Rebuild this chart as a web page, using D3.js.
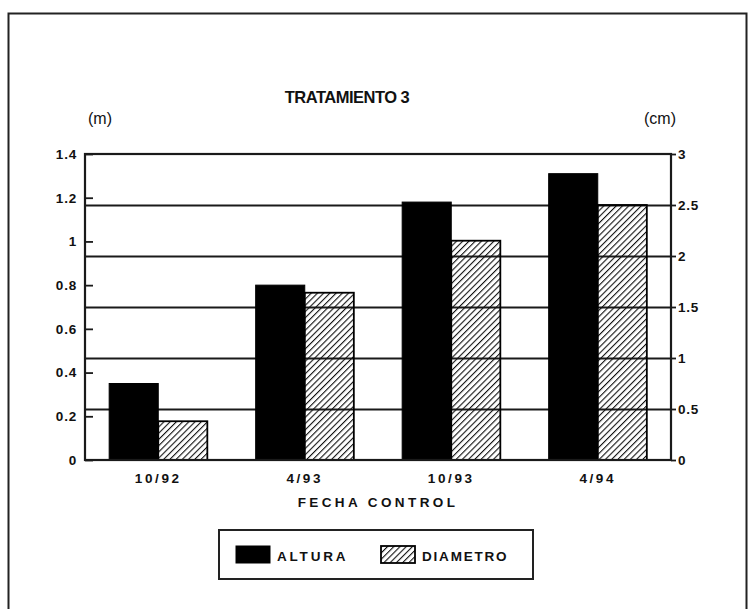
<!DOCTYPE html>
<html><head><meta charset="utf-8">
<script src="https://cdn.jsdelivr.net/npm/d3@7"></script>
<style>
html,body{margin:0;padding:0;background:#fff;}
svg text{font-family:"Liberation Sans",Arial,sans-serif;font-weight:bold;fill:#111;}
</style></head>
<body>
<script>
const categories = ["10/92", "4/93", "10/93", "4/94"];
const altura = [0.35, 0.80, 1.18, 1.31];      // m, left axis
const diametro = [0.38, 1.64, 2.15, 2.50];    // cm, right axis
const leftTicks = [0, 0.2, 0.4, 0.6, 0.8, 1, 1.2, 1.4];
const rightTicks = [0, 0.5, 1, 1.5, 2, 2.5, 3];
const seriesNames = ["ALTURA", "DIAMETRO"];

const W = 748, H = 609;
const FONT = "'Liberation Sans',Arial,sans-serif";
const svg = d3.select("body").append("svg").attr("width", W).attr("height", H);

const defs = svg.append("defs");
const pat = defs.append("pattern").attr("id", "hatch")
  .attr("patternUnits", "userSpaceOnUse").attr("width", 4.4).attr("height", 4.4)
  .attr("patternTransform", "rotate(45)");
pat.append("rect").attr("width", 4.4).attr("height", 4.4).attr("fill", "none");
pat.append("line").attr("x1", 0).attr("y1", 0).attr("x2", 0).attr("y2", 4.4)
  .attr("stroke", "#111").attr("stroke-width", 2.2);

// outer frame (cut at bottom)
svg.append("path").attr("d", `M8.5,${H} V13.5 H746.5 V${H}`)
  .attr("fill", "none").attr("stroke", "#222").attr("stroke-width", 2);

const L = 85, R = 671, T = 154, B = 460;
const x = d3.scaleBand().domain(categories).range([L, R]).paddingInner(0.33).paddingOuter(0.165);
const xs = d3.scaleBand().domain(seriesNames).range([0, x.bandwidth()]);
const yL = d3.scaleLinear().domain([0, 1.4]).range([B, T]);
const yR = d3.scaleLinear().domain([0, 3]).range([B, T]);

// gridlines at right-axis ticks
svg.append("g").selectAll("line").data(rightTicks.filter(d => d > 0 && d < 3)).join("line")
  .attr("x1", L).attr("x2", R).attr("y1", d => Math.round(yR(d)) + 0.5).attr("y2", d => Math.round(yR(d)) + 0.5)
  .attr("stroke", "#1a1a1a").attr("stroke-width", 1.8);

// bars
const g = svg.append("g");
g.selectAll("rect.alt").data(altura).join("rect").attr("class", "alt")
  .attr("x", (d, i) => x(categories[i]) + xs("ALTURA")).attr("width", xs.bandwidth())
  .attr("y", d => yL(d)).attr("height", d => B - yL(d))
  .attr("fill", "#000").attr("stroke", "#000").attr("stroke-width", 1);
g.selectAll("rect.dia").data(diametro).join("rect").attr("class", "dia")
  .attr("x", (d, i) => x(categories[i]) + xs("DIAMETRO")).attr("width", xs.bandwidth())
  .attr("y", d => yR(d)).attr("height", d => B - yR(d))
  .attr("fill", "url(#hatch)").attr("stroke", "#000").attr("stroke-width", 1.8);

// plot frame
svg.append("rect").attr("x", L).attr("y", T).attr("width", R - L).attr("height", B - T)
  .attr("fill", "none").attr("stroke", "#1a1a1a").attr("stroke-width", 2.2);

function styleText(sel, size, spacing) {
  sel.style("font-size", size + "px").style("letter-spacing", spacing + "px")
    .style("font-family", FONT).style("font-weight", "bold").attr("fill", "#111");
}

// left axis
const axL = svg.append("g").attr("transform", `translate(${L},0)`)
  .call(d3.axisRight(yL).tickValues(leftTicks).tickSize(8).tickFormat(d3.format("")));
axL.select(".domain").remove();
axL.selectAll("line").attr("stroke", "#1a1a1a").attr("stroke-width", 1.8);
axL.selectAll("text").attr("x", -8).attr("text-anchor", "end").call(styleText, 13.5, 0.8);

// right axis
const axR = svg.append("g").attr("transform", `translate(${R},0)`)
  .call(d3.axisRight(yR).tickValues(rightTicks).tickSize(5).tickFormat(d3.format("")));
axR.select(".domain").remove();
axR.selectAll("line").attr("stroke", "#1a1a1a").attr("stroke-width", 1.8);
axR.selectAll("text").attr("x", 7).attr("text-anchor", "start").call(styleText, 13.5, 0.8);

// x axis labels
const axB = svg.append("g").attr("transform", `translate(0,${B})`)
  .call(d3.axisBottom(x).tickSize(0).tickPadding(13));
axB.select(".domain").remove();
axB.selectAll("text").call(styleText, 13.5, 2.6);

// titles
svg.append("text").attr("x", 347).attr("y", 103).attr("text-anchor", "middle")
  .call(styleText, 16.5, -0.5).text("TRATAMIENTO 3");
svg.append("text").attr("x", 100).attr("y", 124).attr("text-anchor", "middle")
  .style("font-size", "16px").style("font-weight", "normal").text("(m)");
svg.append("text").attr("x", 660).attr("y", 124).attr("text-anchor", "middle")
  .style("font-size", "16px").style("font-weight", "normal").text("(cm)");
svg.append("text").attr("x", (L + R) / 2).attr("y", 507).attr("text-anchor", "middle")
  .call(styleText, 13.5, 3.4).text("FECHA CONTROL");

// legend
const lg = svg.append("g");
lg.append("rect").attr("x", 219).attr("y", 530).attr("width", 314).attr("height", 49)
  .attr("fill", "none").attr("stroke", "#222").attr("stroke-width", 2);
const legX = [236, 381];
seriesNames.forEach((s, i) => {
  lg.append("rect").attr("x", legX[i]).attr("y", 546).attr("width", 34).attr("height", 17)
    .attr("fill", i === 0 ? "#000" : "url(#hatch)").attr("stroke", "#000").attr("stroke-width", i === 0 ? 1 : 1.8);
  lg.append("text").attr("x", legX[i] + 41).attr("y", 561)
    .call(styleText, 13.5, i === 0 ? 2.8 : 1.8).text(s);
});
</script>
</body></html>
